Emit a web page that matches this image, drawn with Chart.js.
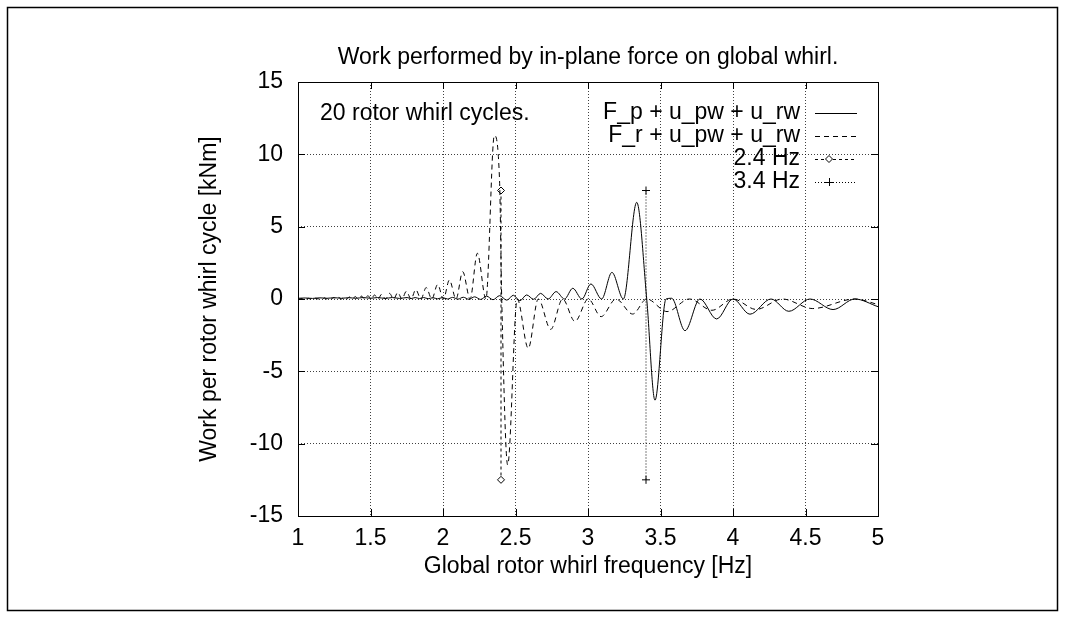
<!DOCTYPE html>
<html>
<head>
<meta charset="utf-8">
<title>Work performed by in-plane force on global whirl</title>
<script src="https://cdn.jsdelivr.net/npm/chart.js@4.4.1/dist/chart.umd.min.js"></script>
<style>
    html, body { margin: 0; padding: 0; background: #fff; }
    #wrap { width: 1065px; height: 620px; }
</style>
</head>
<body>
<div id="wrap"><canvas id="whirlChart" width="1065" height="620"></canvas></div>
<script>
// Данные: частота [Hz] и работа за цикл [kNm]
const fpFreq = [
    1.000, 1.050, 1.100, 1.150, 1.200, 1.250, 1.300, 1.350, 1.400, 1.450,
    1.500, 1.550, 1.600, 1.650, 1.700, 1.752, 1.780, 1.808, 1.838, 1.867,
    1.898, 1.930, 1.963, 1.996, 2.031, 2.066, 2.103, 2.140, 2.179, 2.218,
    2.260, 2.300, 2.345, 2.390, 2.440, 2.485, 2.530, 2.577, 2.625, 2.673,
    2.725, 2.780, 2.838, 2.895, 2.958, 3.020, 3.094, 3.165, 3.244, 3.336,
    3.405, 3.462, 3.538, 3.577, 3.669, 3.772, 3.887, 4.000, 4.117, 4.262,
    4.385, 4.531, 4.690, 4.840, 5.000
];
const fpWork = [
    0.05, 0.07, 0.04, 0.08, 0.05, 0.09, 0.05, 0.09, 0.05, 0.10,
    0.05, 0.10, 0.04, 0.10, 0.04, 0.10, 0.03, 0.10, 0.03, 0.10,
    0.02, 0.09, 0.01, 0.10, 0.00, 0.11, -0.01, 0.12, -0.02, 0.15,
    -0.03, 0.20, -0.05, 0.23, -0.08, 0.26, -0.12, 0.28, -0.02, 0.39,
    0.00, 0.51, 0.00, 0.74, 0.00, 1.04, 0.00, 1.84, 0.00, 6.68,
    0.00, -7.00, 0.00, 0.05, -2.19, 0.00, -1.38, 0.00, -1.05, 0.00,
    -0.85, 0.00, -0.73, 0.00, -0.53
];

const frFreq = [
    1.000, 1.011, 1.022, 1.034, 1.046, 1.058, 1.071, 1.084, 1.097, 1.110,
    1.124, 1.138, 1.153, 1.168, 1.183, 1.198, 1.214, 1.230, 1.247, 1.264,
    1.281, 1.299, 1.317, 1.336, 1.355, 1.375, 1.395, 1.416, 1.438, 1.460,
    1.482, 1.505, 1.528, 1.552, 1.577, 1.604, 1.631, 1.660, 1.688, 1.717,
    1.747, 1.780, 1.812, 1.848, 1.884, 1.923, 1.963, 2.003, 2.044, 2.090,
    2.136, 2.187, 2.237, 2.296, 2.354, 2.390, 2.405, 2.446, 2.512, 2.588,
    2.657, 2.743, 2.825, 2.910, 3.002, 3.090, 3.193, 3.308, 3.405, 3.545,
    3.700, 3.855, 4.000, 4.160, 4.340, 4.550, 4.840, 5.000
];
const frWork = [
    0.02, 0.00, 0.04, 0.00, 0.05, 0.00, 0.05, 0.00, 0.06, 0.00,
    0.06, 0.00, 0.07, 0.00, 0.08, 0.00, 0.09, 0.00, 0.10, 0.00,
    0.11, 0.00, 0.12, 0.00, 0.14, 0.00, 0.17, 0.00, 0.20, 0.00,
    0.23, 0.00, 0.28, 0.00, 0.33, 0.00, 0.39, 0.00, 0.45, 0.00,
    0.53, 0.00, 0.65, 0.00, 0.79, 0.00, 1.00, 0.00, 1.31, 0.00,
    1.89, 0.00, 3.16, 0.00, 11.30, 8.20, 0.00, -11.47, 0.00, -3.41,
    0.00, -2.10, 0.00, -1.55, 0.00, -1.22, 0.00, -1.04, 0.00, -0.87,
    0.00, -0.78, 0.00, -0.72, 0.00, -0.66, 0.00, -0.38
];

// Вертикальные отметки частот 2.4 Hz и 3.4 Hz
const mark24Freq = [2.4, 2.4];
const mark24Work = [7.5, -12.5];
const mark34Freq = [3.4, 3.4];
const mark34Work = [7.5, -12.5];

const xTicks = [1, 1.5, 2, 2.5, 3, 3.5, 4, 4.5, 5];
const yTicks = [-15, -10, -5, 0, 5, 10, 15];
const seriesLabels = ['F_p + u_pw + u_rw', 'F_r + u_pw + u_rw', '2.4 Hz', '3.4 Hz'];

const FONT = '"Liberation Sans", Arial, Helvetica, sans-serif';
const FONT_SIZE = 23;

function toPoints(xs, ys) {
    return xs.map((x, i) => ({ x: x, y: ys[i] }));
}

/**
 * Рамки, внутренние засечки, заголовок, подпись и легенда в стиле gnuplot
 */
const gnuplotDecor = {
    id: 'gnuplotDecor',
    afterDraw(chart) {
        const ctx = chart.ctx;
        const area = chart.chartArea;
        const xs = chart.scales.x;
        const ys = chart.scales.y;

        ctx.save();
        ctx.strokeStyle = '#000';
        ctx.fillStyle = '#000';

        // Внешняя рамка
        ctx.lineWidth = 1.5;
        ctx.strokeRect(7.5, 7.5, 1050, 603);

        // Рамка области графика
        ctx.lineWidth = 1;
        ctx.strokeRect(Math.round(area.left) + 0.5, Math.round(area.top) + 0.5,
            Math.round(area.right - area.left), Math.round(area.bottom - area.top));

        // Засечки внутрь
        ctx.beginPath();
        xTicks.forEach(v => {
            const px = Math.round(xs.getPixelForValue(v)) + 0.5;
            ctx.moveTo(px, area.bottom); ctx.lineTo(px, area.bottom - 7);
            ctx.moveTo(px, area.top); ctx.lineTo(px, area.top + 7);
        });
        yTicks.forEach(v => {
            const py = Math.round(ys.getPixelForValue(v)) + 0.5;
            ctx.moveTo(area.left, py); ctx.lineTo(area.left + 7, py);
            ctx.moveTo(area.right, py); ctx.lineTo(area.right - 7, py);
        });
        ctx.stroke();

        // Заголовок
        ctx.font = FONT_SIZE + 'px ' + FONT;
        ctx.textAlign = 'center';
        ctx.textBaseline = 'middle';
        ctx.fillText('Work performed by in-plane force on global whirl.', (area.left + area.right) / 2, 58);

        // Подпись
        ctx.textAlign = 'left';
        ctx.fillText('20 rotor whirl cycles.', 320, 114);

        // Легенда
        const rows = [113, 136, 159, 182];
        ctx.textAlign = 'right';
        seriesLabels.forEach((label, i) => {
            ctx.fillText(label, 800, rows[i]);
        });
        const x0 = 815, x1 = 857, xm = 829;
        const dashes = [[], [5, 4], [3, 3], [1, 2]];
        dashes.forEach((d, i) => {
            ctx.setLineDash(d);
            ctx.beginPath();
            ctx.moveTo(x0, rows[i] + 0.5);
            ctx.lineTo(x1, rows[i] + 0.5);
            ctx.stroke();
        });
        ctx.setLineDash([]);
        // ромб
        ctx.fillStyle = '#fff';
        ctx.beginPath();
        ctx.moveTo(xm, rows[2] - 3.5);
        ctx.lineTo(xm + 3.5, rows[2]);
        ctx.lineTo(xm, rows[2] + 3.5);
        ctx.lineTo(xm - 3.5, rows[2]);
        ctx.closePath();
        ctx.fill();
        ctx.stroke();
        // крестик
        ctx.beginPath();
        ctx.moveTo(xm - 4, rows[3] + 0.5); ctx.lineTo(xm + 4, rows[3] + 0.5);
        ctx.moveTo(xm + 0.5, rows[3] - 4); ctx.lineTo(xm + 0.5, rows[3] + 4);
        ctx.stroke();

        ctx.restore();
    }
};

document.addEventListener('DOMContentLoaded', function() {
    const ctx = document.getElementById('whirlChart').getContext('2d');

    new Chart(ctx, {
        type: 'line',
        data: {
            datasets: [{
                label: seriesLabels[0],
                data: toPoints(fpFreq, fpWork),
                borderColor: '#000',
                borderWidth: 1,
                pointRadius: 0,
                cubicInterpolationMode: 'monotone',
                fill: false
            }, {
                label: seriesLabels[1],
                data: toPoints(frFreq, frWork),
                borderColor: '#000',
                borderWidth: 1,
                borderDash: [5, 4],
                pointRadius: 0,
                cubicInterpolationMode: 'monotone',
                fill: false
            }, {
                label: seriesLabels[2],
                data: toPoints(mark24Freq, mark24Work),
                borderColor: '#000',
                borderWidth: 1,
                borderDash: [3, 3],
                pointStyle: 'rectRot',
                pointRadius: 3.5,
                pointBackgroundColor: '#fff',
                pointBorderColor: '#000',
                pointBorderWidth: 1,
                tension: 0,
                fill: false
            }, {
                label: seriesLabels[3],
                data: toPoints(mark34Freq, mark34Work),
                borderColor: '#000',
                borderWidth: 1,
                borderDash: [1, 2],
                pointStyle: 'cross',
                pointRadius: 4,
                pointBorderColor: '#000',
                pointBorderWidth: 1,
                tension: 0,
                fill: false
            }]
        },
        options: {
            responsive: false,
            animation: false,
            devicePixelRatio: 1,
            layout: {
                padding: { left: 195, top: 82, right: 187, bottom: 30 }
            },
            plugins: {
                legend: { display: false },
                tooltip: { enabled: false },
                title: { display: false }
            },
            scales: {
                x: {
                    type: 'linear',
                    min: 1,
                    max: 5,
                    afterBuildTicks: scale => { scale.ticks = xTicks.map(v => ({ value: v })); },
                    afterFit: scale => { scale.height = 74; },
                    grid: {
                        color: 'rgba(0,0,0,0.75)',
                        drawTicks: false,
                        tickLength: 0
                    },
                    border: { display: false, dash: [1, 2] },
                    ticks: {
                        color: '#000',
                        font: { family: FONT, size: FONT_SIZE },
                        padding: 9,
                        maxRotation: 0,
                        callback: v => String(v)
                    },
                    title: {
                        display: true,
                        text: 'Global rotor whirl frequency [Hz]',
                        color: '#000',
                        font: { family: FONT, size: FONT_SIZE },
                        padding: { top: 0, bottom: 10 }
                    }
                },
                y: {
                    type: 'linear',
                    min: -15,
                    max: 15,
                    afterBuildTicks: scale => { scale.ticks = yTicks.map(v => ({ value: v })); },
                    afterFit: scale => { scale.width = 103; },
                    grid: {
                        color: 'rgba(0,0,0,0.75)',
                        drawTicks: false,
                        tickLength: 0
                    },
                    border: { display: false, dash: [1, 2] },
                    ticks: {
                        color: '#000',
                        font: { family: FONT, size: FONT_SIZE },
                        padding: 15,
                        callback: v => String(v)
                    },
                    title: {
                        display: true,
                        text: 'Work per rotor whirl cycle [kNm]',
                        color: '#000',
                        font: { family: FONT, size: FONT_SIZE },
                        padding: { top: 1, bottom: 0 }
                    }
                }
            }
        },
        plugins: [gnuplotDecor]
    });
});
</script>
</body>
</html>
